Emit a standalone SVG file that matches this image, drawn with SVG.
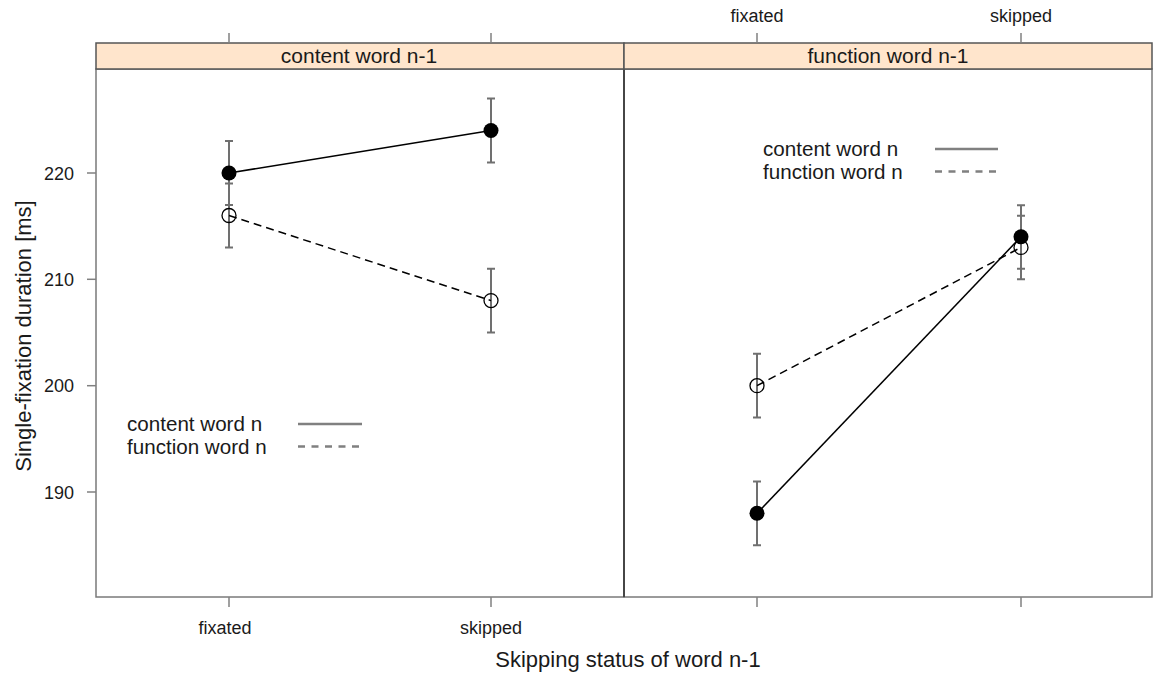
<svg xmlns="http://www.w3.org/2000/svg" width="1153" height="673" viewBox="0 0 1153 673">
<style>
text{font-family:"Liberation Sans",Arial,sans-serif;fill:#1a1a1a}
.tick{stroke:#808080;stroke-width:1.5}
.frame{fill:none;stroke:#7a7a7a;stroke-width:1.5}
.strip{fill:#ffe5cc;stroke:#555;stroke-width:1.5}
.err{stroke:#707070;stroke-width:2;fill:none}
.solid{stroke:#000;stroke-width:1.5;fill:none}
.dash{stroke:#000;stroke-width:1.5;fill:none;stroke-dasharray:8 5}
.leg{stroke:#808080;stroke-width:2.5}
.legd{stroke:#808080;stroke-width:2.5;stroke-dasharray:7 6.5}
.fp{fill:#000}
.op{fill:none;stroke:#000;stroke-width:1.3}
.tl{font-size:18px}
.lt{font-size:20.6px}
.st{font-size:21px}
.ax{font-size:22px}
</style>
<rect width="1153" height="673" fill="#fff"/>
<g id="axes">
<rect class="frame" x="96" y="69" width="528" height="528"/>
<rect class="frame" x="624" y="69" width="528" height="528"/>
<line x1="624" y1="43" x2="624" y2="597" stroke="#333" stroke-width="1.5"/>
<g id="strips">
<rect class="strip" x="96" y="43" width="528" height="26"/>
<rect class="strip" x="624" y="43" width="528" height="26"/>
<text class="st" x="359" y="63" text-anchor="middle">content word n-1</text>
<text class="st" x="888" y="63" text-anchor="middle">function word n-1</text>
</g>
<g id="ticks">
<line class="tick" x1="229" y1="33" x2="229" y2="43"/>
<line class="tick" x1="491" y1="33" x2="491" y2="43"/>
<line class="tick" x1="757" y1="33" x2="757" y2="43"/>
<line class="tick" x1="1021" y1="33" x2="1021" y2="43"/>
<line class="tick" x1="229" y1="597" x2="229" y2="607"/>
<line class="tick" x1="491" y1="597" x2="491" y2="607"/>
<line class="tick" x1="757" y1="597" x2="757" y2="607"/>
<line class="tick" x1="1021" y1="597" x2="1021" y2="607"/>
<line class="tick" x1="87" y1="173" x2="96" y2="173"/>
<line class="tick" x1="87" y1="279.3" x2="96" y2="279.3"/>
<line class="tick" x1="87" y1="385.7" x2="96" y2="385.7"/>
<line class="tick" x1="87" y1="492" x2="96" y2="492"/>
<text class="tl" x="757" y="22" text-anchor="middle">fixated</text>
<text class="tl" x="1021" y="22" text-anchor="middle">skipped</text>
<text class="tl" x="225" y="634" text-anchor="middle">fixated</text>
<text class="tl" x="491" y="634" text-anchor="middle">skipped</text>
<text class="tl" x="74" y="179.5" text-anchor="end">220</text>
<text class="tl" x="74" y="285.8" text-anchor="end">210</text>
<text class="tl" x="74" y="392.2" text-anchor="end">200</text>
<text class="tl" x="74" y="498.5" text-anchor="end">190</text>
</g>
<text class="ax" x="628" y="667" text-anchor="middle">Skipping status of word n-1</text>
<text class="ax" transform="translate(31,336) rotate(-90)" text-anchor="middle">Single-fixation duration [ms]</text>
</g>
<g id="errorbars">
<path class="err" d="M229 141.1V204.9M225 141.1h8M225 204.9h8"/>
<path class="err" d="M229 183.6V247.4M225 183.6h8M225 247.4h8"/>
<path class="err" d="M491 98.6V162.4M487 98.6h8M487 162.4h8"/>
<path class="err" d="M491 268.7V332.5M487 268.7h8M487 332.5h8"/>
<path class="err" d="M757 481.4V545.2M753 481.4h8M753 545.2h8"/>
<path class="err" d="M757 353.8V417.6M753 353.8h8M753 417.6h8"/>
<path class="err" d="M1021 205.3V268.7M1017 205.3h8M1017 268.7h8"/>
<path class="err" d="M1021 215.7V279.3M1017 215.7h8M1017 279.3h8"/>
</g>
<g id="connectors">
<line class="solid" x1="229" y1="173" x2="491" y2="130.5"/>
<line class="dash" x1="229" y1="215.5" x2="491" y2="300.6"/>
<line class="solid" x1="757" y1="513.3" x2="1021" y2="236.8"/>
<line class="dash" x1="757" y1="385.7" x2="1021" y2="247.4"/>
</g>
<g id="points">
<circle class="fp" cx="229" cy="173" r="7.5"/>
<circle class="fp" cx="491" cy="130.5" r="7.5"/>
<circle class="op" cx="229" cy="215.5" r="7"/>
<circle class="op" cx="491" cy="300.6" r="7"/>
<circle class="fp" cx="757" cy="513.3" r="7.5"/>
<circle class="op" cx="757" cy="385.7" r="7"/>
<circle class="fp" cx="1021" cy="236.8" r="7.5"/>
<circle class="op" cx="1021" cy="247.4" r="7"/>
</g>
<g id="legend-left">
<text class="lt" x="127" y="430.5">content word n</text>
<text class="lt" x="127" y="454">function word n</text>
<line class="leg" x1="298" y1="424" x2="362" y2="424"/>
<line class="legd" x1="298" y1="446.5" x2="362" y2="446.5"/>
</g>
<g id="legend-right">
<text class="lt" x="763" y="155.5">content word n</text>
<text class="lt" x="763" y="179">function word n</text>
<line class="leg" x1="935" y1="149" x2="998" y2="149"/>
<line class="legd" x1="935" y1="171.5" x2="998" y2="171.5"/>
</g>
</svg>
